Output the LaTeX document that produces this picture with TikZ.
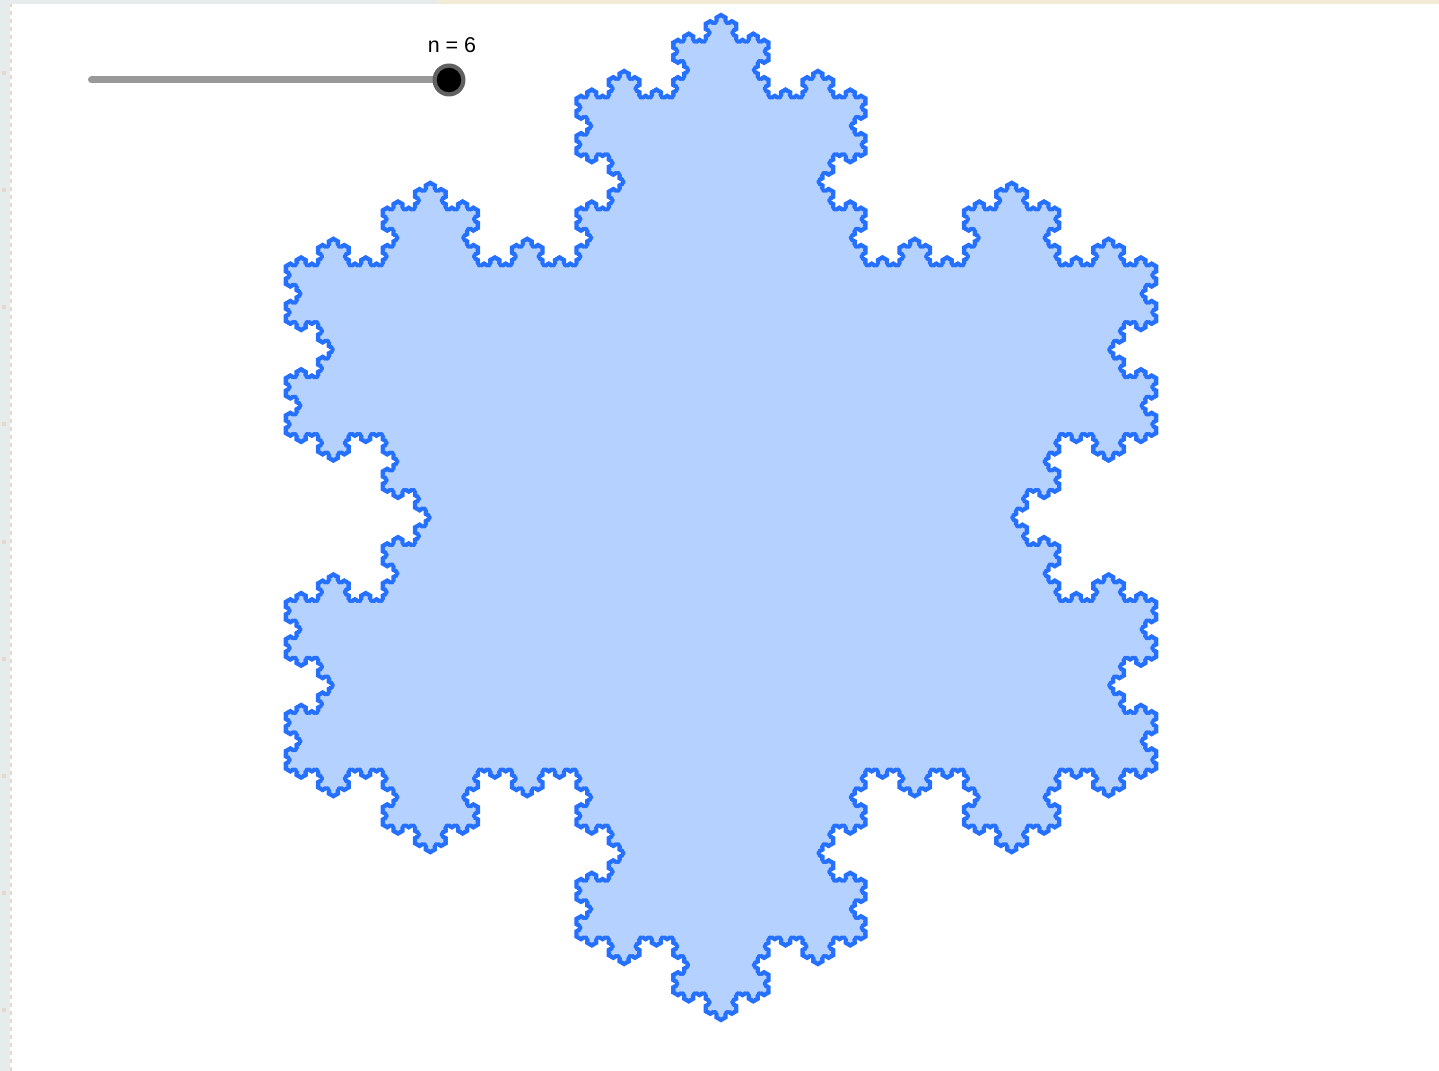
\documentclass[tikz,border=0pt]{standalone}
\usepackage{fontspec}
\setmainfont{Liberation Sans}
\usetikzlibrary{lindenmayersystems}
\definecolor{flakefill}{RGB}{180,209,255}
\definecolor{flakeline}{RGB}{38,112,255}
\definecolor{panelgray}{RGB}{230,236,236}
\definecolor{paneltan}{RGB}{242,236,214}
\definecolor{tickpink}{RGB}{232,214,206}
\definecolor{slidergray}{RGB}{153,153,153}
\pgfdeclarelindenmayersystem{Koch}{\rule{F -> F-F++F-F}}

\begin{document}
\begin{tikzpicture}
\useasboundingbox(0,0)rectangle(14.39,10.71);
\fill[white](0,0)rectangle(14.39,10.71);
% window edges
\fill[panelgray](0,0)rectangle(0.10,10.71);
\fill[panelgray](0,10.67)rectangle(4.37,10.71);
\fill[paneltan](4.37,10.67)rectangle(14.39,10.71);
\draw[tickpink,line width=0.02cm,dash pattern=on 0.04cm off 0.04cm](0.11,0)--(0.11,10.67);
\foreach \k in {0,...,8}
  \fill[tickpink](0.02,0.59+1.171*\k)rectangle(0.06,0.63+1.171*\k);
% snowflake
\filldraw[shift={(2.8496,3.0175)},fill=flakefill,draw=flakeline,line width=0.03cm,line join=round,
  l-system={Koch,axiom=F++F++F,order=6,angle=60,step=0.011963cm}]
  lindenmayer system -- cycle;
% slider
\coordinate(slA) at (0.915,9.91);
\coordinate(slB) at (4.49,9.91);
\draw[slidergray,line width=0.07cm,line cap=round](slA)--(slB);
\node[circle,fill=black!62,minimum size=0.33cm,inner sep=0](halo) at (slB){};
\node[circle,fill=black,minimum size=0.245cm,inner sep=0](knob) at (slB){};
\node[font=\fontsize{6.1pt}{7pt}\selectfont](nlabel) at (4.52,10.26){n = 6};
\end{tikzpicture}
\end{document}
